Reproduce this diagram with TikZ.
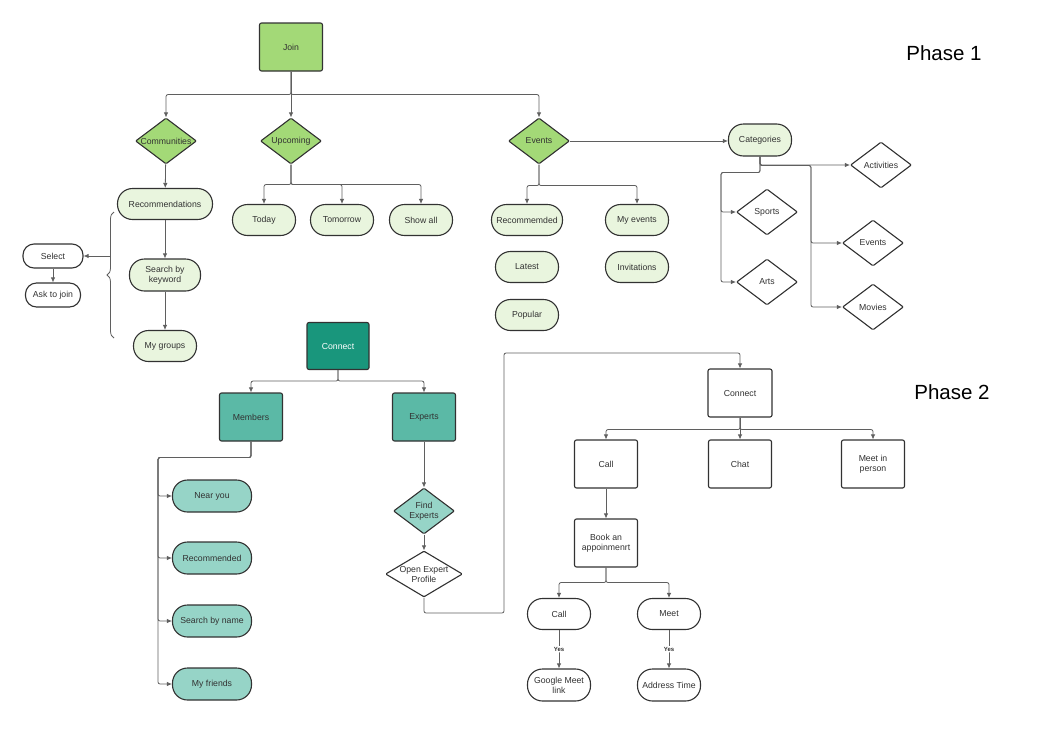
\documentclass[tikz,border=0pt]{standalone}
\usepackage{fontspec}
\setmainfont{Liberation Sans}
\usepackage{tikz}
\usetikzlibrary{calc}
\usetikzlibrary{arrows.meta}
\usetikzlibrary{shapes.geometric}
\usetikzlibrary{decorations.pathreplacing}
\definecolor{leafgreen}{RGB}{163, 217, 119}
\definecolor{palegreen}{RGB}{233, 245, 222}
\definecolor{deepteal}{RGB}{25, 150, 124}
\definecolor{midteal}{RGB}{91, 185, 166}
\definecolor{softteal}{RGB}{150, 212, 199}
\definecolor{inkline}{RGB}{50, 50, 50}
\definecolor{inktext}{RGB}{50, 50, 50}
\definecolor{wire}{RGB}{95, 95, 95}
\tikzset{
  every node/.style={font=\fontsize{8.7}{10}\selectfont, text=inktext},
  flowbox/.style={rectangle, rounded corners=2pt, draw=inkline, line width=1.1pt,
                  minimum width=63pt, minimum height=48pt, align=center, inner sep=1pt},
  flowpill/.style={rectangle, rounded corners=15pt, draw=inkline, line width=1.1pt,
                   minimum width=63pt, minimum height=31pt, align=center, inner sep=1pt},
  flowdiamond/.style={diamond, draw=inkline, line width=1.1pt, aspect=1.33, rounded corners=1pt,
                      minimum width=61pt, minimum height=46pt, inner sep=0pt, align=center},
  link/.style={draw=wire, line width=0.8pt, rounded corners=2pt, -{Latex[length=5pt,width=4.5pt]}},
  bracket/.style={draw=wire, line width=0.8pt, decorate, decoration={brace, amplitude=7pt}},
  yeslabel/.style={fill=white, inner sep=1pt, font=\bfseries\fontsize{6}{7}\selectfont},
  phaselabel/.style={font=\fontsize{20.5}{24}\selectfont, text=black}
}
\begin{document}
\begin{tikzpicture}[x=1pt, y=-1pt]
    \useasboundingbox (0,0) rectangle (1040,736);
    % phase 1
    \node[phaselabel] (phaseone) at (944,53) {Phase 1};
    \node[flowbox, fill=leafgreen]     (join)        at (291, 47) {Join};
    \node[flowdiamond, fill=leafgreen] (communities) at (166,141) {Communities};
    \node[flowdiamond, fill=leafgreen] (upcoming)    at (291,141) {Upcoming};
    \node[flowdiamond, fill=leafgreen] (events)      at (539,141) {Events};
    \node[flowpill, fill=palegreen, minimum width=95pt] (recs) at (165,204) {Recommendations};
    \node[flowpill, fill=palegreen, minimum width=71pt, minimum height=32pt] (keyword) at (165,275) {Search by\\keyword};
    \node[flowpill, fill=palegreen] (mygroups) at (165,346) {My groups};
    \node[flowpill, fill=white, minimum width=60pt, minimum height=24pt, rounded corners=11pt] (select)  at (53,256) {Select};
    \node[flowpill, fill=white, minimum width=55pt, minimum height=24pt, rounded corners=11pt] (askjoin) at (53,295) {Ask to join};
    \node[flowpill, fill=palegreen] (today)    at (264,220) {Today};
    \node[flowpill, fill=palegreen] (tomorrow) at (342,220) {Tomorrow};
    \node[flowpill, fill=palegreen] (showall)  at (421,220) {Show all};
    \node[flowpill, fill=palegreen, minimum width=71pt] (recommemded) at (527,220) {Recommemded};
    \node[flowpill, fill=palegreen] (myevents)    at (637,220) {My events};
    \node[flowpill, fill=palegreen] (latest)      at (527,267) {Latest};
    \node[flowpill, fill=palegreen] (invitations) at (637,267) {Invitations};
    \node[flowpill, fill=palegreen] (popular)     at (527,315) {Popular};
    \node[flowpill, fill=palegreen, minimum height=32pt] (categories) at (760,140) {Categories};
    \node[flowdiamond, fill=white] (activities) at (881,165) {Activities};
    \node[flowdiamond, fill=white] (sports)     at (767,212) {Sports};
    \node[flowdiamond, fill=white] (arts)       at (767,282) {Arts};
    \node[flowdiamond, fill=white] (catevents)  at (873,243) {Events};
    \node[flowdiamond, fill=white] (movies)     at (873,307) {Movies};
    \coordinate (bracestart) at (114,338);
    \coordinate (braceend)   at (114,212);
    \coordinate (bracearm)   at (110,256);

    \draw[link] (join.south) -- ++(0,23) -| (communities.north);
    \draw[link] (join.south) -- (upcoming.north);
    \draw[link] (join.south) -- ++(0,23) -| (events.north);
    \draw[link] (communities) -- (recs);
    \draw[link] (recs) -- (keyword);
    \draw[link] (keyword) -- (mygroups);
    \draw[bracket] (bracestart) -- (braceend);
    \draw[link] (bracearm) -- (select.east);
    \draw[link] (select) -- (askjoin);
    \foreach \kid in {today,tomorrow,showall}
        \draw[link] (upcoming.south) -- ++(0,20) -| (\kid.north);
    \foreach \kid in {recommemded,myevents}
        \draw[link] (events.south) -- ++(0,21) -| (\kid.north);
    \draw[link] (events.east) -- (events.east -| categories.west);
    \draw[link] (categories.south) |- (activities.west);
    \foreach \kid in {catevents,movies}
        \draw[link] (categories.south) |- ++(51,9) |- (\kid.west);
    \foreach \kid in {sports,arts}
        \draw[link] (categories.south) -- ++(0,16) -- ++(-39,0) |- (\kid.west);

    % phase 2
    \node[phaselabel] (phasetwo) at (952,392) {Phase 2};
    \node[flowbox, fill=deepteal, text=white, minimum width=62pt, minimum height=47pt] (connect) at (338,346) {Connect};
    \node[flowbox, fill=midteal] (members) at (251,417) {Members};
    \node[flowbox, fill=midteal] (experts) at (424,417) {Experts};
    \node[flowpill, fill=softteal, minimum width=79pt, minimum height=32pt] (nearyou)     at (212,496) {Near you};
    \node[flowpill, fill=softteal, minimum width=79pt, minimum height=32pt] (recommended) at (212,558) {Recommended};
    \node[flowpill, fill=softteal, minimum width=79pt, minimum height=32pt] (searchname)  at (212,621) {Search by name};
    \node[flowpill, fill=softteal, minimum width=79pt, minimum height=32pt] (myfriends)   at (212,684) {My friends};
    \node[flowdiamond, fill=softteal] (findexperts) at (424,511) {Find\\Experts};
    \node[flowdiamond, fill=white, aspect=1.67, minimum width=77pt, inner xsep=-5pt] (profile) at (424,574) {Open Expert\\Profile};
    \node[flowbox, fill=white, minimum width=64pt] (meetconnect) at (740,393) {Connect};
    \node[flowbox, fill=white] (callbox)  at (606,464) {Call};
    \node[flowbox, fill=white] (chat)     at (740,464) {Chat};
    \node[flowbox, fill=white] (inperson) at (873,464) {Meet in\\person};
    \node[flowbox, fill=white] (book)     at (606,543) {Book an\\appoinmenrt};
    \node[flowpill, fill=white] (callpill) at (559,614) {Call};
    \node[flowpill, fill=white] (meetpill) at (669,614) {Meet};
    \node[flowpill, fill=white, minimum height=32pt] (gmeet)   at (559,685) {Google Meet\\link};
    \node[flowpill, fill=white, minimum height=32pt] (address) at (669,685) {Address Time};
    \coordinate (detourlow)  at (504,613);
    \coordinate (detourhigh) at (504,353);

    \foreach \kid in {members,experts}
        \draw[link] (connect.south) -- ++(0,11) -| (\kid.north);
    \foreach \kid in {nearyou,recommended,searchname,myfriends}
        \draw[link] (members.south) -- ++(0,16) -- ++(-93,0) |- (\kid.west);
    \draw[link] (experts) -- (findexperts);
    \draw[link] (findexperts) -- (profile);
    \draw[link] (profile.south) |- (detourlow) -- (detourhigh) -| (meetconnect.north);
    \foreach \kid in {callbox,chat,inperson}
        \draw[link] (meetconnect.south) -- ++(0,12) -| (\kid.north);
    \draw[link] (callbox) -- (book);
    \foreach \kid in {callpill,meetpill}
        \draw[link] (book.south) -- ++(0,15) -| (\kid.north);
    \draw[link] (callpill) -- node[yeslabel] {Yes} (gmeet);
    \draw[link] (meetpill) -- node[yeslabel] {Yes} (address);
\end{tikzpicture}
\end{document}
